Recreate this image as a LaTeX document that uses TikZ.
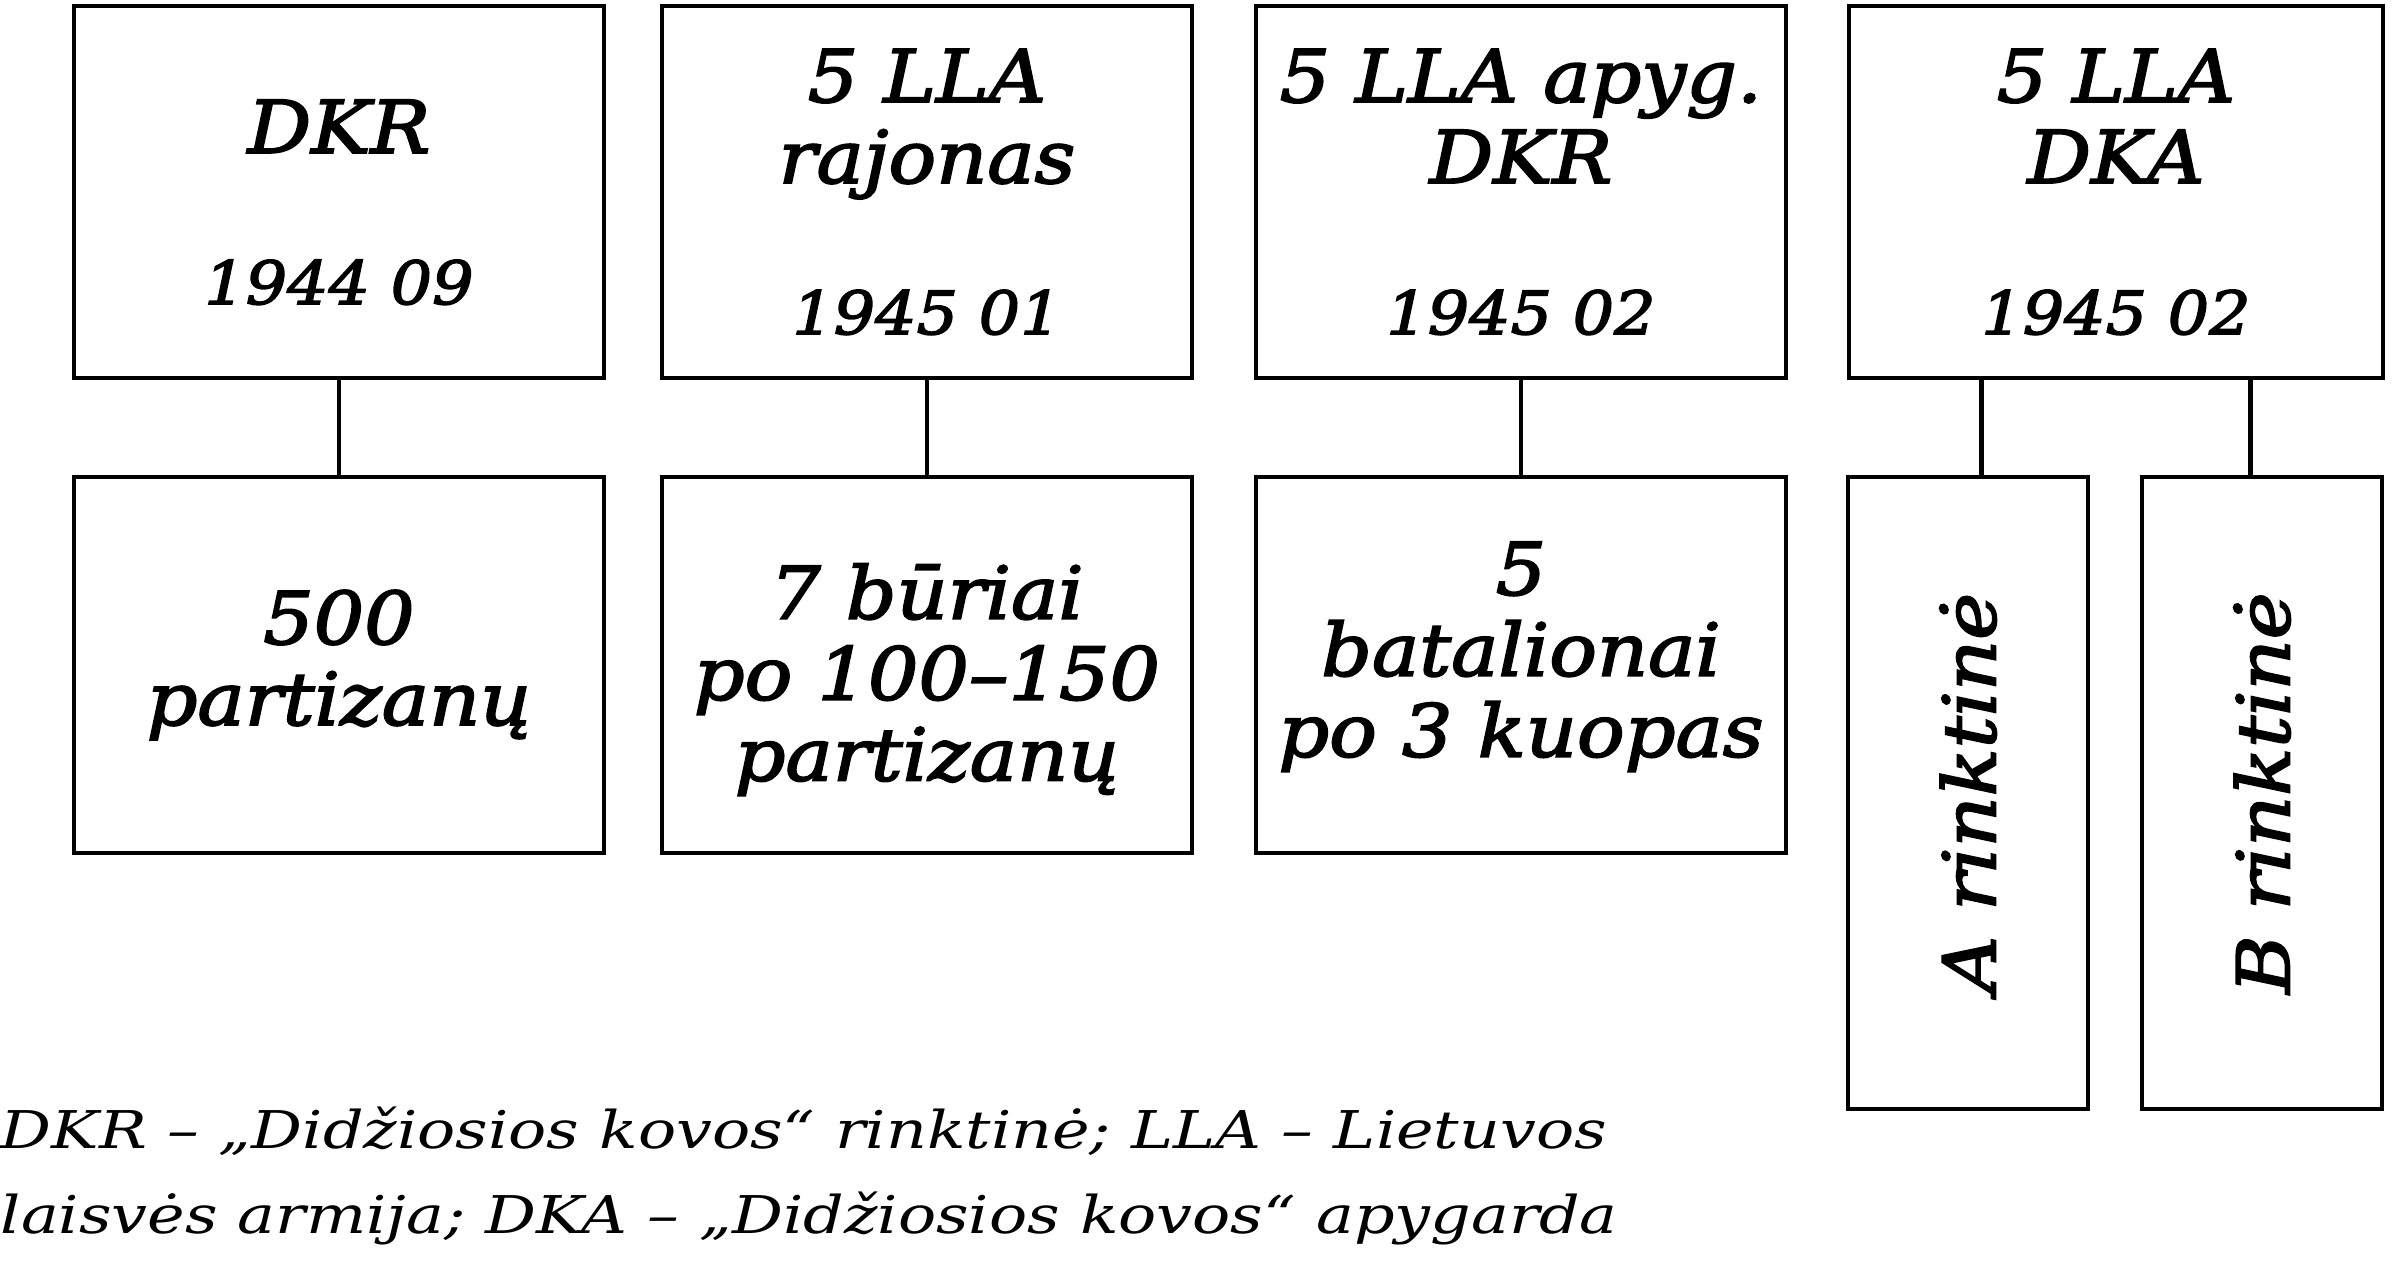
\documentclass[tikz,border=0pt]{standalone}
\usepackage{fontspec}
\setmainfont{DejaVu Serif}
\newfontfamily\boxfamily{DejaVu Serif Italic}[FakeBold=2.5, FakeStretch=1.09]
\newfontfamily\notefamily{DejaVu Serif Italic}[FakeStretch=1.22]
\usetikzlibrary{positioning, calc}

\newcommand{\boxfont}{\boxfamily\fontsize{20.7pt}{23pt}\selectfont}
\newcommand{\datefont}{\boxfamily\fontsize{17pt}{23pt}\selectfont}
\newcommand{\notefont}{\notefamily\fontsize{14.8pt}{24pt}\selectfont}
\newcommand{\lift}[1]{\rule{0pt}{#1}}

\tikzset{
  unit/.style={draw, line width=1.3pt, minimum width=5.3cm, minimum height=3.72cm, align=center, font=\boxfont, inner sep=0pt},
  link/.style={line width=1.3pt},
}

\begin{document}
\begin{tikzpicture}[x=0.01cm, y=-0.01cm]
\useasboundingbox (0,0) rectangle (2392,1276);

\node (dkr) at (339,192) [unit] {\lift{21pt}DKR\\[20pt]{\datefont 1944 09}};
\node (raj) at (927,192) [unit] {5 LLA\\rajonas\\[20pt]{\datefont 1945 01}};
\node (apyg) at (1521,192) [unit] {5 LLA apyg.\\DKR\\[20pt]{\datefont 1945 02}};
\node (dka) at (2116,192) [unit, minimum width=5.34cm] {5 LLA\\DKA\\[20pt]{\datefont 1945 02}};

\node (partiz) at (339,665) [unit, minimum height=3.76cm] {500\\partizanų};
\node (buriai) at (927,665) [unit, minimum height=3.76cm] {\lift{24pt}7 būriai\\po 100–150\\partizanų};
\node (batal) at (1521,665) [unit, minimum height=3.76cm] {5\\batalionai\\po 3 kuopas\\[-14pt]};
\node (rinkA) at (1968,793) [unit, minimum width=2.4cm, minimum height=6.32cm, label={[rotate=90, font=\boxfont]center:A rinktinė}] {};
\node (rinkB) at (2262,793) [unit, minimum width=2.4cm, minimum height=6.32cm, label={[rotate=90, font=\boxfont]center:B rinktinė}] {};

\coordinate (dkaL) at ($(dka.south west)!0.25!(dka.south east)$);
\coordinate (dkaR) at ($(dka.south west)!0.75!(dka.south east)$);

\draw[link] (dkr) -- (partiz);
\draw[link] (raj) -- (buriai);
\draw[link] (apyg) -- (batal);
\draw[link] (dkaL) -- (dkaL |- rinkA.north);
\draw[link] (dkaR) -- (dkaR |- rinkB.north);

\node (note1) at (0,1148) [anchor=base west, font=\notefont, inner sep=0pt] {DKR – „Didžiosios kovos“ rinktinė; LLA – Lietuvos};
\node (note2) at (0,1233) [anchor=base west, font=\notefont, inner sep=0pt] {laisvės armija; DKA – „Didžiosios kovos“ apygarda};
\end{tikzpicture}
\end{document}
